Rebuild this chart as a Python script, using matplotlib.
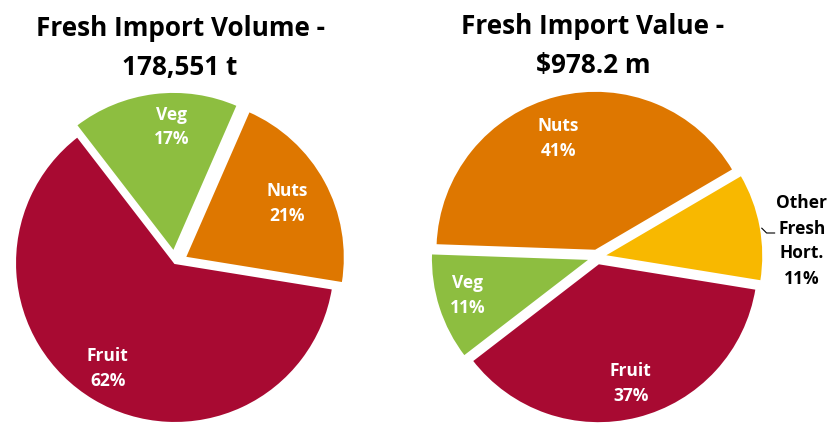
import matplotlib.pyplot as plt

# data
vol_labels = ["Veg", "Nuts", "Fruit"]
vol_pct = [17, 21, 62]
val_labels = ["Nuts", "Other\nFresh\nHort.", "Fruit", "Veg"]
val_pct = [41, 11, 37, 11]

colours = {"Fruit": "#A80A32", "Veg": "#8DBE40", "Nuts": "#DE7700",
           "Other\nFresh\nHort.": "#F8B800"}

plt.rcParams['font.family'] = ['Open Sans', 'DejaVu Sans']
plt.rcParams['font.weight'] = 'bold'

W, H = 827, 424
R = 160  # pie radius in pixels
fig = plt.figure(figsize=(W / 100, H / 100), dpi=100)


def pie_axes(cx, cy):
    half = 1.1 * R
    ax = fig.add_axes([(cx - half) / W, (H - cy - half) / H, 2 * half / W, 2 * half / H])
    return ax


# ---- left pie: volume
ax1 = pie_axes(175, 263)
ax1.pie(vol_pct, colors=[colours[l] for l in vol_labels], startangle=127.6,
        counterclock=False, explode=[0.07, 0.07, 0.0],
        wedgeprops=dict(edgecolor='white', linewidth=1.5))
ax1.set_xlim(-1.1, 1.1)
ax1.set_ylim(-1.1, 1.1)
ax1.axis('off')
vol_pos = [(-0.02, 0.85), (0.70, 0.37), (-0.42, -0.66)]
for lab, p, (x, y) in zip(vol_labels, vol_pct, vol_pos):
    ax1.text(x, y, f"{lab}\n{p}%", color='white', fontsize=12.5, fontweight='bold',
             ha='center', va='center', linespacing=1.5)

# ---- right pie: value
ax2 = pie_axes(597, 257)
ax2.pie(val_pct, colors=[colours[l] for l in val_labels], startangle=178,
        counterclock=False, explode=[0.04] * 4,
        wedgeprops=dict(edgecolor='white', linewidth=1.5))
ax2.set_xlim(-1.1, 1.1)
ax2.set_ylim(-1.1, 1.1)
ax2.axis('off')
val_pos = [(-0.24, 0.74), (1.28, 0.10), (0.21, -0.79), (-0.81, -0.24)]
for lab, p, (x, y) in zip(val_labels, val_pct, val_pos):
    col = 'black' if lab.startswith("Other") else 'white'
    ax2.text(x, y, f"{lab}\n{p}%", color=col, fontsize=12.5, fontweight='bold',
             ha='center', va='center', linespacing=1.5, clip_on=False)
# leader line for the small slice
ax2.plot([1.03, 1.06, 1.11], [0.18, 0.15, 0.15], color='black', lw=0.8, clip_on=False)

# ---- titles
fig.text(180 / W, 1 - 28 / H, "Fresh Import Volume -", ha='center', va='center',
         fontsize=18.8, fontweight='bold')
fig.text(180 / W, 1 - 67 / H, "178,551 t", ha='center', va='center',
         fontsize=18.8, fontweight='bold')
fig.text(593 / W, 1 - 27 / H, "Fresh Import Value -", ha='center', va='center',
         fontsize=18.8, fontweight='bold')
fig.text(593 / W, 1 - 65 / H, "$978.2 m", ha='center', va='center',
         fontsize=18.8, fontweight='bold')

fig.savefig("out.png", dpi=100)
